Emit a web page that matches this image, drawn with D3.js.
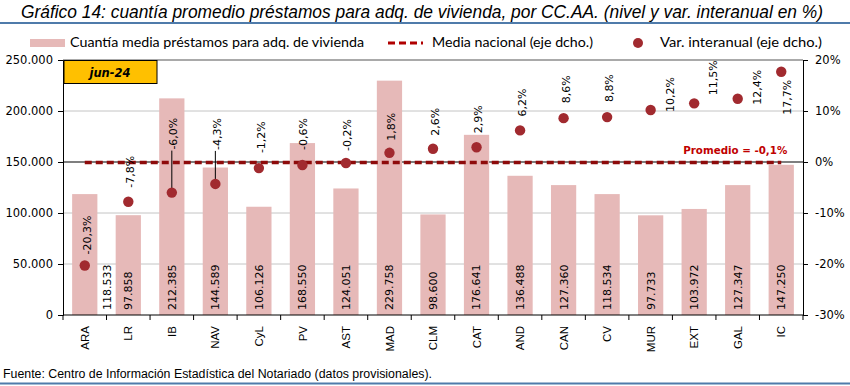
<!DOCTYPE html>
<html>
<head>
<meta charset="utf-8">
<script src="https://cdn.jsdelivr.net/npm/d3@7"></script>
<style>
  body { margin: 0; background: #fff; }
  svg { display: block; }
</style>
</head>
<body>
<div id="chart"></div>
<script>
// datos (jun-24)
var regiones = ["ARA","LR","IB","NAV","CyL","PV","AST","MAD","CLM","CAT","AND","CAN","CV","MUR","EXT","GAL","IC"];
var cuantia = [118533, 97858, 212385, 144589, 106126, 168550, 124051, 229758, 98600, 176641, 136488, 127360, 118534, 97733, 103972, 127347, 147250];
var varInteranual = [-20.3, -7.8, -6.0, -4.3, -1.2, -0.6, -0.2, 1.8, 2.6, 2.9, 6.2, 8.6, 8.8, 10.2, 11.5, 12.4, 17.7];
var mediaNacional = -0.1;
var ticksIzq = [0, 50000, 100000, 150000, 200000, 250000];
var ticksDer = [-30, -20, -10, 0, 10, 20];

var W = 850, H = 386;
var margin = {top: 60, right: 47, bottom: 71, left: 63},
    width = W - margin.left - margin.right,
    height = H - margin.top - margin.bottom;

var es = d3.formatLocale({decimal: ",", thousands: ".", grouping: [3], currency: ["", "€"], minus: "-"});
var fmtMiles = es.format(",.0f"),
    fmtPct = es.format(".1f");

var x = d3.scaleBand().domain(regiones).range([0, width]).paddingInner(0.42).paddingOuter(0.21);
var yL = d3.scaleLinear().domain([0, 250000]).range([height, 0]);
var yR = d3.scaleLinear().domain([-30, 20]).range([height, 0]);

// colocacion de las etiquetas de % respecto al punto (dx, dy, linea guia)
var posPct = {
  ARA: [2, -11], LR: [2, -14], IB: [1, -43, true], NAV: [2, -34, true], CyL: [2, -15],
  PV: [1, -15], AST: [1, -12], MAD: [2, -12], CLM: [2, -13], CAT: [2, -14], AND: [2, -14],
  CAN: [2, -15], CV: [2, -15], MUR: [19, 2], EXT: [19, -8], GAL: [19, 6], IC: [6, 43]
};

var filas = regiones.map(function(r, i){
  return {reg: r, cuantia: cuantia[i], pct: varInteranual[i], pos: posPct[r]};
});
function cx(d){ return x(d.reg) + x.bandwidth() / 2; }

var svgRoot = d3.select("#chart").append("svg")
  .attr("width", W).attr("height", H);

// titulo y lineas azules
svgRoot.append("text")
  .attr("x", 21).attr("y", 17.5)
  .attr("textLength", 802).attr("lengthAdjust", "spacingAndGlyphs")
  .style("font-family", "'Liberation Sans Narrow', 'Liberation Sans', Arial, sans-serif")
  .style("font-style", "italic").style("font-size", "17.5px").style("fill", "#000")
  .text("Gráfico 14: cuantía promedio préstamos para adq. de vivienda, por CC.AA. (nivel y var. interanual en %)");

svgRoot.append("line").attr("x1", 0).attr("x2", W).attr("y1", 23).attr("y2", 23)
  .attr("stroke", "#4F7BAA").attr("stroke-width", 2);
svgRoot.append("line").attr("x1", 0).attr("x2", W).attr("y1", 383.5).attr("y2", 383.5)
  .attr("stroke", "#4F7BAA").attr("stroke-width", 2);

svgRoot.append("text")
  .attr("x", 3).attr("y", 377.5)
  .attr("textLength", 429).attr("lengthAdjust", "spacingAndGlyphs")
  .style("font-family", "'Liberation Sans Narrow', 'Liberation Sans', Arial, sans-serif")
  .style("font-size", "12.5px").style("fill", "#000")
  .text("Fuente: Centro de Información Estadística del Notariado (datos provisionales).");

// leyenda
var leg = svgRoot.append("g").style("font-family", "Lato, 'Open Sans', sans-serif").style("font-size", "13px");
leg.append("rect").attr("x", 30).attr("y", 39).attr("width", 35).attr("height", 8).attr("fill", "#E6B9B8");
leg.append("text").attr("x", 70).attr("y", 47).attr("textLength", 294).attr("lengthAdjust", "spacingAndGlyphs")
  .text("Cuantía media préstamos para adq. de vivienda");
leg.append("line").attr("x1", 388).attr("x2", 423).attr("y1", 43).attr("y2", 43)
  .attr("stroke", "#B00000").attr("stroke-width", 3).attr("stroke-dasharray", "7,4");
leg.append("text").attr("x", 432).attr("y", 47).attr("textLength", 161).attr("lengthAdjust", "spacingAndGlyphs")
  .text("Media nacional (eje dcho.)");
leg.append("circle").attr("cx", 638).attr("cy", 43).attr("r", 5).attr("fill", "#A12A2F");
leg.append("text").attr("x", 660).attr("y", 47).attr("textLength", 162).attr("lengthAdjust", "spacingAndGlyphs")
  .text("Var. interanual (eje dcho.)");

var svg = svgRoot.append("g")
  .attr("transform", "translate(" + margin.left + "," + margin.top + ")");

// rejilla
svg.selectAll(".grid")
  .data(ticksIzq.filter(function(d){ return d > 0; }))
  .enter().append("line")
  .attr("x1", 0).attr("x2", width)
  .attr("y1", function(d){ return yL(d); }).attr("y2", function(d){ return yL(d); })
  .attr("stroke", function(d){ return (d == 150000 || d == 250000) ? "#555" : "#C4C4C4"; })
  .attr("stroke-width", function(d){ return d == 150000 ? 1.5 : 1; });

// barras
svg.selectAll(".bar")
  .data(filas)
  .enter().append("rect")
  .attr("class", "bar")
  .attr("x", function(d){ return x(d.reg); })
  .attr("width", x.bandwidth())
  .attr("y", function(d){ return yL(d.cuantia); })
  .attr("height", function(d){ return height - yL(d.cuantia); })
  .style("fill", "#E6B9B8");

// media nacional
svg.append("line")
  .attr("x1", cx(filas[0]))
  .attr("x2", cx(filas[filas.length - 1]))
  .attr("y1", yR(mediaNacional)).attr("y2", yR(mediaNacional))
  .attr("stroke", "#8E0B0B").attr("stroke-width", 3.4).attr("stroke-dasharray", "7,4");

svg.append("text")
  .attr("x", cx(filas[filas.length - 1]) + 6).attr("y", yR(mediaNacional) - 9)
  .attr("text-anchor", "end")
  .style("font-family", "'DejaVu Sans', sans-serif").style("font-weight", "bold")
  .style("font-size", "10.5px").style("fill", "#C00000")
  .attr("textLength", 104).attr("lengthAdjust", "spacingAndGlyphs")
  .text("Promedio = " + fmtPct(mediaNacional) + "%");

// etiquetas de cuantia
svg.selectAll(".lblBar")
  .data(filas)
  .enter().append("text")
  .attr("transform", function(d, i){
    return "translate(" + (cx(d) + (i == 0 ? 22 : 0)) + "," + (height - 5) + ")rotate(-90)";
  })
  .attr("dy", "0.36em")
  .style("font-family", "'DejaVu Sans', sans-serif").style("font-size", "11px").style("fill", "#000")
  .text(function(d){ return fmtMiles(d.cuantia); });

// lineas guia
svg.selectAll(".guia")
  .data(filas.filter(function(d){ return d.pos[2]; }))
  .enter().append("line")
  .attr("x1", cx).attr("x2", cx)
  .attr("y1", function(d){ return yR(d.pct); })
  .attr("y2", function(d){ return yR(d.pct) + d.pos[1] + 1; })
  .attr("stroke", "#000").attr("stroke-width", 1);

// puntos de variacion
svg.selectAll(".dot")
  .data(filas)
  .enter().append("circle")
  .attr("cx", cx)
  .attr("cy", function(d){ return yR(d.pct); })
  .attr("r", 5.2)
  .style("fill", "#A12A2F");

svg.selectAll(".lblPct")
  .data(filas)
  .enter().append("text")
  .attr("transform", function(d){
    return "translate(" + (cx(d) + d.pos[0]) + "," + (yR(d.pct) + d.pos[1]) + ")rotate(-90)";
  })
  .attr("dy", "0.36em")
  .style("font-family", "'DejaVu Sans', sans-serif").style("font-size", "11px").style("fill", "#000")
  .text(function(d){ return fmtPct(d.pct) + "%"; });

// recuadro fecha
svg.append("rect").attr("x", 1).attr("y", 0.5).attr("width", 93).attr("height", 23)
  .attr("fill", "#FFC000").attr("stroke", "#000").attr("stroke-width", 1);
svg.append("text").attr("x", 47).attr("y", 17)
  .attr("text-anchor", "middle")
  .style("font-family", "'DejaVu Sans', sans-serif").style("font-weight", "bold").style("font-style", "italic")
  .style("font-size", "11.5px")
  .text("jun-24");

// ejes
var ejeX = svg.append("g")
  .attr("transform", "translate(0," + height + ")");
ejeX.append("line").attr("x1", 0).attr("x2", width).attr("stroke", "#000");
ejeX.selectAll(".tk")
  .data(d3.range(regiones.length + 1))
  .enter().append("line")
  .attr("x1", function(i){ return i * x.step(); }).attr("x2", function(i){ return i * x.step(); })
  .attr("y1", 0).attr("y2", 5).attr("stroke", "#000");
ejeX.selectAll(".cat")
  .data(regiones)
  .enter().append("text")
  .attr("transform", function(d){ return "translate(" + (x(d) + x.bandwidth() / 2) + ",11)rotate(-90)"; })
  .attr("dy", "0.36em")
  .attr("text-anchor", "end")
  .style("font-family", "'Liberation Sans', Arial, sans-serif").style("font-size", "11.5px")
  .text(function(d){ return d; });

var ejeIzq = svg.append("g")
  .call(d3.axisLeft(yL).tickValues(ticksIzq).tickSize(5).tickFormat(fmtMiles));
ejeIzq.selectAll("text").style("font-family", "'DejaVu Sans', sans-serif").style("font-size", "11.5px").attr("x", -10);

var ejeDer = svg.append("g")
  .attr("transform", "translate(" + width + ",0)")
  .call(d3.axisRight(yR).tickValues(ticksDer).tickSize(5).tickFormat(function(d){ return d + "%"; }));
ejeDer.selectAll("text").style("font-family", "'DejaVu Sans', sans-serif").style("font-size", "11.5px").attr("x", 12);

[ejeIzq, ejeDer].forEach(function(g){
  g.select(".domain").attr("stroke", "#000");
  g.selectAll(".tick line").attr("stroke", "#000");
});
</script>
</body>
</html>
